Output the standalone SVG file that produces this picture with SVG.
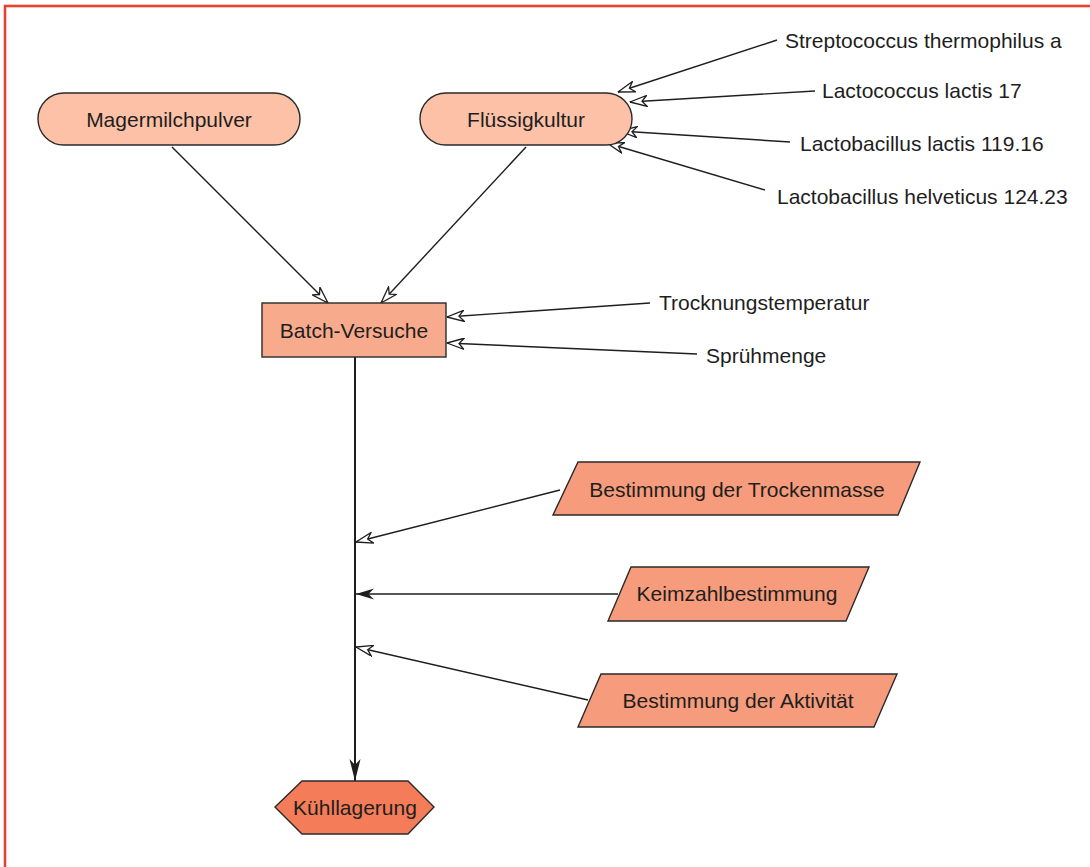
<svg xmlns="http://www.w3.org/2000/svg" width="1090" height="867" viewBox="0 0 1090 867">
<style>
text{font-family:"Liberation Sans",Arial,sans-serif;font-size:21px;fill:#1e1e1e;dominant-baseline:central}
.c{text-anchor:middle}
.n{stroke:#2a2a2a;stroke-width:1.4}
.l{stroke:#1e1e1e;stroke-width:1.4;fill:none}
.m{stroke-width:2}
</style>
<defs>
<marker id="open" viewBox="0 0 18 12" refX="17.5" refY="6" markerWidth="18" markerHeight="12" markerUnits="userSpaceOnUse" orient="auto">
<path d="M17.5,6 L0.5,0.5 L5.5,6 L0.5,11.5 Z" fill="#fff" stroke="#1e1e1e" stroke-width="1.3"/>
</marker>
<marker id="fill" viewBox="0 0 18 12" refX="18" refY="6" markerWidth="18" markerHeight="12" markerUnits="userSpaceOnUse" orient="auto">
<path d="M18,6 L0,0.5 L5.5,6 L0,11.5 Z" fill="#1e1e1e"/>
</marker>
<marker id="down" viewBox="0 0 22 12" refX="22" refY="6" markerWidth="22" markerHeight="12" markerUnits="userSpaceOnUse" orient="auto">
<path d="M22,6 L0,0.5 L6,6 L0,11.5 Z" fill="#1e1e1e"/>
</marker>
</defs>
<rect x="5" y="6" width="1100" height="880" fill="#fff" stroke="#e8412e" stroke-width="2.6"/>
<g id="connectors">
<line class="l" x1="777" y1="40" x2="618" y2="92" marker-end="url(#open)"/>
<line class="l" x1="815" y1="91" x2="630" y2="102" marker-end="url(#open)"/>
<line class="l" x1="790" y1="142" x2="620" y2="131" marker-end="url(#open)"/>
<line class="l" x1="765" y1="190" x2="607" y2="143" marker-end="url(#open)"/>
<line class="l" x1="172" y1="147" x2="328" y2="303" marker-end="url(#open)"/>
<line class="l" x1="526" y1="147" x2="381" y2="303" marker-end="url(#open)"/>
<line class="l" x1="650" y1="303" x2="447" y2="317" marker-end="url(#open)"/>
<line class="l" x1="697" y1="354" x2="447" y2="343" marker-end="url(#open)"/>
<line class="l m" x1="355" y1="357" x2="355" y2="781" marker-end="url(#down)"/>
<line class="l" x1="560" y1="490" x2="356" y2="542" marker-end="url(#open)"/>
<line class="l" x1="618" y1="594" x2="356" y2="594" marker-end="url(#fill)"/>
<line class="l" x1="588" y1="700" x2="356" y2="647" marker-end="url(#open)"/>
</g>
<g id="magermilchpulver">
<rect class="n" x="38" y="93" width="262" height="52" rx="26" fill="#fcc1a6"/>
<text class="c" x="169" y="119">Magermilchpulver</text>
</g>
<g id="fluessigkultur">
<rect class="n" x="420" y="93" width="212" height="52" rx="26" fill="#fcc1a6"/>
<text class="c" x="526" y="119">Flüssigkultur</text>
</g>
<g id="streptococcus"><text x="785" y="40">Streptococcus thermophilus a</text></g>
<g id="lactococcus"><text x="822" y="90">Lactococcus lactis 17</text></g>
<g id="lactobacillus-lactis"><text x="800" y="143">Lactobacillus lactis 119.16</text></g>
<g id="lactobacillus-helveticus"><text x="777" y="196">Lactobacillus helveticus 124.23</text></g>
<g id="batch">
<rect class="n" x="262" y="303" width="184" height="54" fill="#f8ab8c"/>
<text class="c" x="354" y="330">Batch-Versuche</text>
</g>
<g id="trocknungstemperatur"><text x="659" y="302">Trocknungstemperatur</text></g>
<g id="spruehmenge"><text x="706" y="355">Sprühmenge</text></g>
<g id="trockenmasse">
<polygon class="n" points="578,462 920,462 898,515 553,515" fill="#f69b7b"/>
<text class="c" x="737" y="489">Bestimmung der Trockenmasse</text>
</g>
<g id="keimzahl">
<polygon class="n" points="631,567 869,567 846,621 608,621" fill="#f69b7b"/>
<text class="c" x="737" y="593">Keimzahlbestimmung</text>
</g>
<g id="aktivitaet">
<polygon class="n" points="601,674 897,674 874,727 578,727" fill="#f69b7b"/>
<text class="c" x="738" y="700">Bestimmung der Aktivität</text>
</g>
<g id="kuehllagerung">
<polygon class="n" points="302,781 408,781 434,807 408,834 302,834 275,807" fill="#f47c58"/>
<text class="c" x="355" y="807">Kühllagerung</text>
</g>
</svg>
